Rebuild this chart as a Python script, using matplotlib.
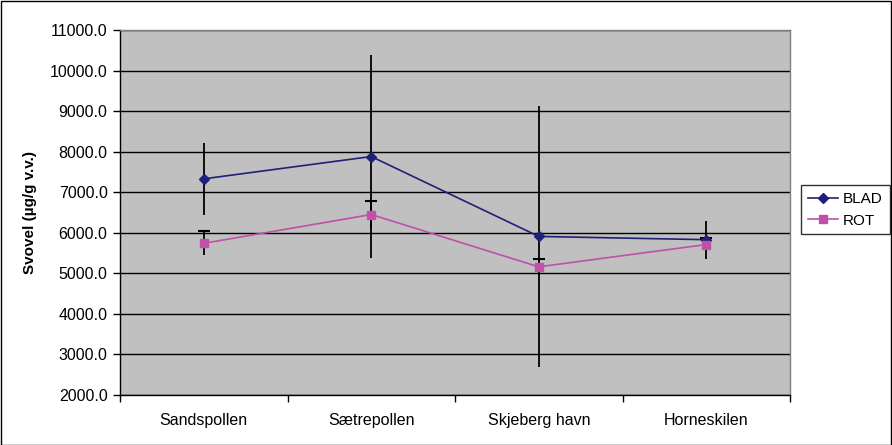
import matplotlib
matplotlib.use("Agg")
import matplotlib.pyplot as plt
import numpy as np

categories = ["Sandspollen", "Sætrepollen", "Skjeberg havn", "Horneskilen"]
blad = [7330, 7880, 5910, 5830]
blad_err = [890, 2500, 3220, 470]
rot = [5740, 6450, 5160, 5710]
rot_err = [300, 330, 200, 150]
yticks = [2000, 3000, 4000, 5000, 6000, 7000, 8000, 9000, 10000, 11000]

plt.rcParams['font.family'] = ['Liberation Sans', 'DejaVu Sans']

fig = plt.figure(figsize=(8.92, 4.45), dpi=100)
fig.patch.set_facecolor('white')
ax = fig.add_axes([120/892, 1-395/445, 670/892, 365/445])
ax.set_facecolor('#C0C0C0')

x = np.arange(len(categories))
blad_c = '#202078'
rot_c = '#C050A8'

# error bars
ax.errorbar(x, blad, yerr=blad_err, fmt='none', ecolor='black', elinewidth=1.3, capsize=0, zorder=3)
ax.errorbar(x, rot, yerr=rot_err, fmt='none', ecolor='black', elinewidth=1.3, capsize=0, zorder=3)
ax.plot(x, np.array(rot) + np.array(rot_err), linestyle='none', marker='_', markersize=9,
        markeredgewidth=1.5, color='black', zorder=3)

ax.plot(x, blad, color=blad_c, marker='D', markersize=5.5, linewidth=1.2, label='BLAD', zorder=4)
ax.plot(x, rot, color=rot_c, marker='s', markersize=5.5, linewidth=1.2, label='ROT', zorder=4)

ax.set_xlim(-0.5, len(categories) - 0.5)
ax.set_ylim(2000, 11000)
ax.set_yticks(yticks)
ax.set_yticklabels([f"{v:.1f}" for v in yticks], fontsize=11.5)
ax.yaxis.grid(True, color='black', linewidth=1.0)
ax.set_axisbelow(True)

ax.set_xticks(x)
ax.set_xticklabels(categories, fontsize=11.5)
ax.tick_params(axis='x', which='major', length=0, pad=13)
ax.set_xticks(np.arange(-0.5, len(categories), 1.0), minor=True)
ax.tick_params(axis='x', which='minor', length=5, width=1, direction='out')
ax.tick_params(axis='y', length=5, width=1, direction='out', pad=4)

for side in ['top', 'right']:
    ax.spines[side].set_color('#808080')
    ax.spines[side].set_linewidth(1)
for side in ['left', 'bottom']:
    ax.spines[side].set_color('black')
    ax.spines[side].set_linewidth(1)

ax.set_ylabel('Svovel (µg/g v.v.)', fontsize=11, fontweight='bold', labelpad=9)

leg = fig.legend(loc='upper left', bbox_to_anchor=(801/892, 1-185/445), fontsize=11,
                 frameon=True, fancybox=False, edgecolor='black', borderpad=0.45,
                 handlelength=2.0, handletextpad=0.3, labelspacing=0.5, borderaxespad=0)
leg.get_frame().set_linewidth(1)

# outer border
fig.add_artist(plt.Rectangle((0.5/892, 0.5/445), 1-1.5/892, 1-1.5/445, transform=fig.transFigure,
                             fill=False, edgecolor='black', linewidth=1))

fig.savefig('out.png', dpi=100)
